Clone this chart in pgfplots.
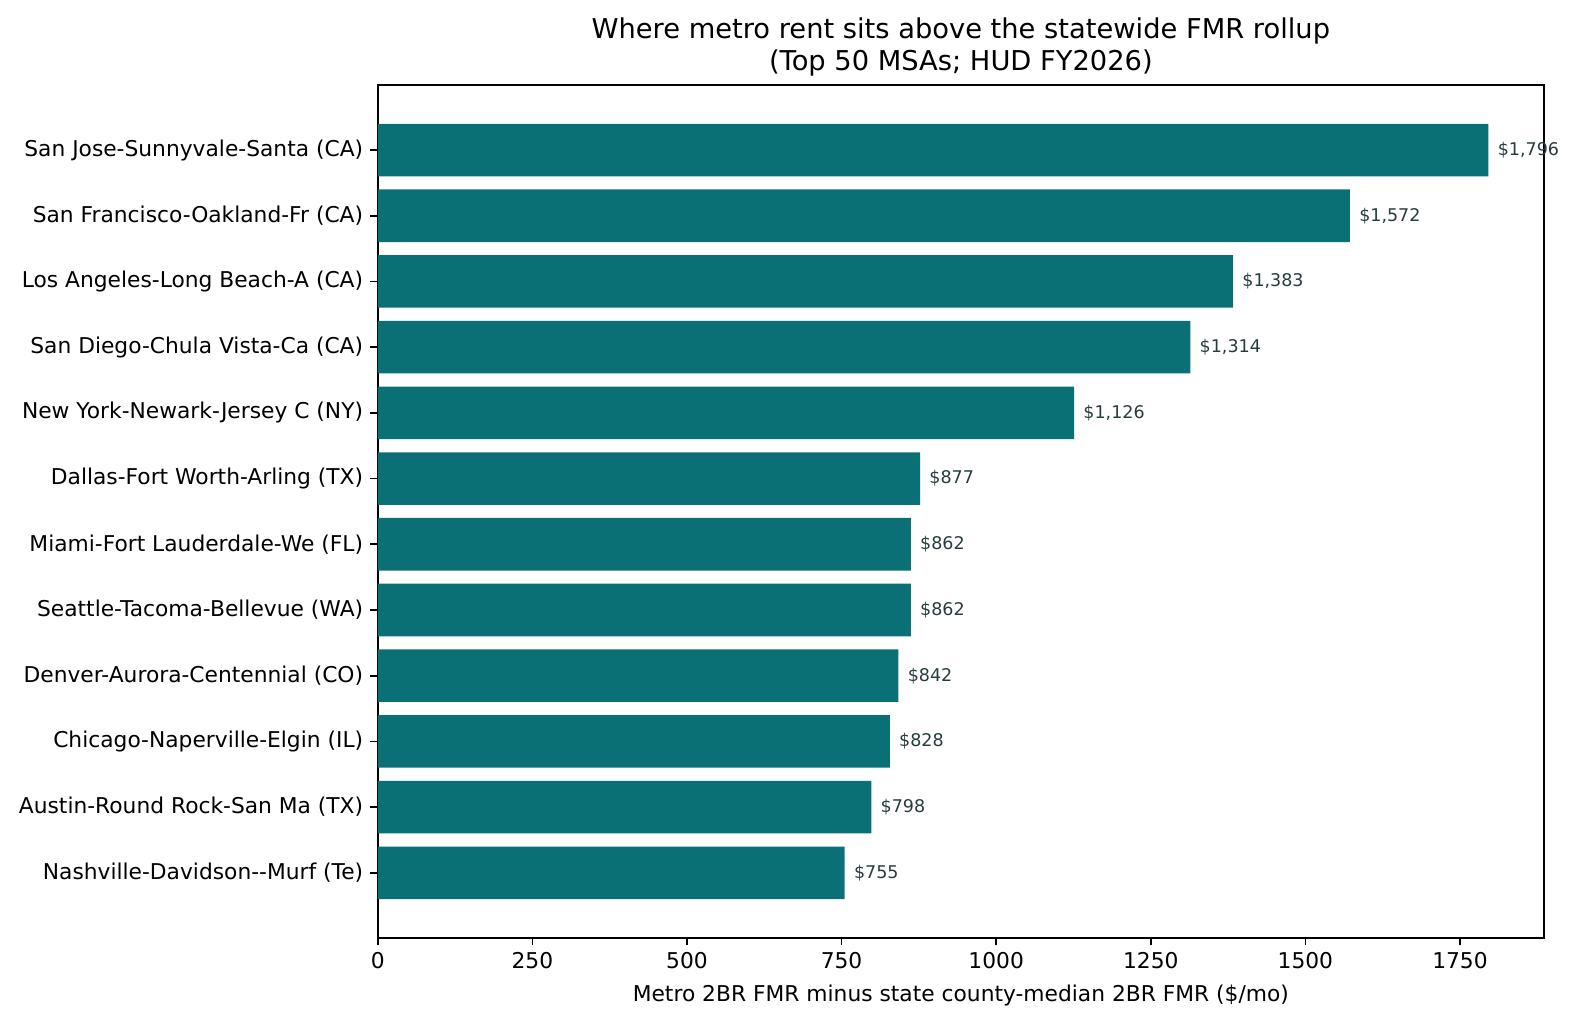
\documentclass[border=0pt]{standalone}
\usepackage{fontspec}
\setmainfont{DejaVu Sans}
\usepackage{pgfplots}
\pgfplotsset{compat=1.18}
\definecolor{barteal}{RGB}{11,112,117}
\definecolor{labgrey}{RGB}{40,60,62}

\begin{document}
\begin{tikzpicture}
\begin{axis}[
  scale only axis,
  width=559.7pt, height=409.3pt,
  xbar, bar width=0.8,
  y dir=reverse,
  xmin=0, xmax=1885.8,
  ymin=-0.99, ymax=11.99,
  clip=false,
  axis line style={line width=0.8pt},
  tick style={line width=0.8pt, black},
  major tick length=3.5pt,
  tick align=outside,
  xtick pos=bottom, ytick pos=left,
  xtick={0,250,...,1750},
  ytick={0,...,11},
  yticklabels={
    San Jose-Sunnyvale-Santa (CA),
    San Francisco-Oakland-Fr (CA),
    Los Angeles-Long Beach-A (CA),
    San Diego-Chula Vista-Ca (CA),
    New York-Newark-Jersey C (NY),
    Dallas-Fort Worth-Arling (TX),
    Miami-Fort Lauderdale-We (FL),
    Seattle-Tacoma-Bellevue (WA),
    Denver-Aurora-Centennial (CO),
    Chicago-Naperville-Elgin (IL),
    Austin-Round Rock-San Ma (TX),
    {Nashville-Davidson-{}-Murf (Te)}},
  scaled ticks=false,
  /pgf/number format/assume math mode=true,
  xticklabel style={/pgf/number format/1000 sep={}},
  ticklabel style={font=\fontsize{10.45}{12.5}\selectfont},
  xlabel={Metro 2BR FMR minus state county-median 2BR FMR (\$/mo)},
  xlabel style={font=\fontsize{10.45}{12.5}\selectfont, yshift=-1pt},
  title={Where metro rent sits above the statewide FMR rollup\\(Top 50 MSAs; HUD FY2026)},
  title style={font=\fontsize{13.1}{15.7}\selectfont, align=center, yshift=-5.5pt},
  point meta=x,
  nodes near coords={\$\pgfmathprintnumber[fixed,precision=0,1000 sep={,}]{\pgfplotspointmeta}},
  nodes near coords style={anchor=west, inner sep=0pt, xshift=4.3pt,
    font=\fontsize{8.4}{10}\selectfont, text=labgrey},
]
\addplot[fill=barteal, draw=none] coordinates {
  (1796,0) (1572,1) (1383,2) (1314,3) (1126,4) (877,5)
  (862,6) (862,7) (842,8) (828,9) (798,10) (755,11)
};
\end{axis}
\pgfresetboundingbox
\path[use as bounding box] (current axis.south west) ++(-181.3pt,-40.9pt)
  rectangle ([shift={(14.9pt,40.8pt)}]current axis.north east);
\end{tikzpicture}
\end{document}
